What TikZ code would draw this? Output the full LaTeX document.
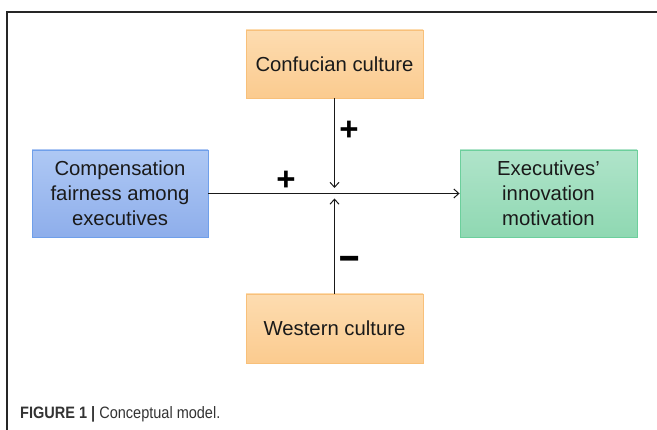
\documentclass[tikz,border=0pt]{standalone}
\usepackage{fontspec}
\setmainfont{Liberation Sans}
\newfontfamily\capfont[FakeStretch=0.88]{Liberation Sans}
\usetikzlibrary{arrows.meta}

\definecolor{orfill1}{HTML}{FDDCB0}
\definecolor{orfill2}{HTML}{FBCB8F}
\definecolor{ordraw}{HTML}{F8C07A}
\definecolor{blfill1}{HTML}{AEC8F4}
\definecolor{blfill2}{HTML}{8EAEEB}
\definecolor{bldraw}{HTML}{6F9FEA}
\definecolor{grfill1}{HTML}{B0E4CA}
\definecolor{grfill2}{HTML}{8FD8B2}
\definecolor{grdraw}{HTML}{6CCF9C}
\definecolor{textdark}{HTML}{1A1A1A}
\definecolor{capgray}{HTML}{333333}

\tikzset{
  concept/.style={draw, line width=0.9pt, align=center, inner sep=0pt,
    text=textdark, font=\fontsize{20.3}{25}\selectfont},
  orangebox/.style={concept, draw=ordraw, top color=orfill1, bottom color=orfill2,
    minimum width=177pt, minimum height=68pt},
  bluebox/.style={concept, draw=bldraw, top color=blfill1, bottom color=blfill2,
    minimum width=176pt, minimum height=87pt},
  greenbox/.style={concept, draw=grdraw, top color=grfill1, bottom color=grfill2,
    minimum width=177pt, minimum height=87pt},
  link/.style={line width=1.2pt, draw=black!90,
    -{Straight Barb[length=5pt,width=9pt,line width=1pt]}},
  sign/.style={font=\fontsize{33}{33}\selectfont\bfseries, inner sep=0pt}
}

\begin{document}
\begin{tikzpicture}[x=1pt,y=-1pt]
  \useasboundingbox (0,0) rectangle (657,430);

  % frame around the figure
  \draw[line width=1.2pt, draw=black!85] (7,431) -- (7,12) -- (658,12);

  % concept boxes
  \node[orangebox] (conf) at (334.5,64) {Confucian culture};
  \node[orangebox, minimum height=69pt] (west) at (334.5,328.5) {Western culture};
  \node[bluebox] (comp) at (120,193.5) {Compensation\\fairness among\\executives};
  \node[greenbox] (exec) at (548.5,193.5) {Executives’\\innovation\\motivation};

  % meeting points of the moderating arrows
  \coordinate (jtop) at (334.5,188);
  \coordinate (jbot) at (334.5,198.5);

  % main effect and moderating effects
  \draw[link] (comp.east) -- (exec.west);
  \draw[link] (conf.south) -- (jtop);
  \draw[link] (west.north) -- (jbot);

  % signs of the effects
  \node[sign] (pmain) at (286,181) {+};
  \node[sign] (pconf) at (349,131) {+};
  \node[sign, font=\fontsize{28}{28}\selectfont\bfseries] (mwest) at (349.5,264)
       {\scalebox{1.3}[1.7]{–}};

  % caption
  \node[anchor=base west, inner sep=0pt, text=capgray,
        font=\capfont\fontsize{16.5}{16.5}\selectfont] (cap) at (20,419)
        {\textbf{FIGURE 1 |} Conceptual model.};
\end{tikzpicture}
\end{document}
